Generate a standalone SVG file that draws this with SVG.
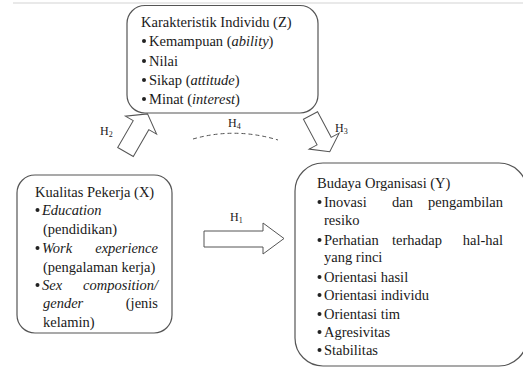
<svg xmlns="http://www.w3.org/2000/svg" width="523" height="368" viewBox="0 0 523 368" font-family="'Liberation Serif', 'DejaVu Serif', serif">
<style>
text{font-family:'Liberation Serif','DejaVu Serif',serif;font-size:14.5px;fill:#1a1a1a}
.i{font-style:italic}
.box{fill:#fff;stroke:#555;stroke-width:1.2}
.arr{fill:#fff;stroke:#555;stroke-width:1}
.lbl{font-size:12px}
.sub{font-size:8px}
.b{fill:#222}
</style>
<rect width="523" height="368" fill="#fff"/>
<line x1="13" y1="3" x2="523" y2="3" stroke="#e2e2e2" stroke-width="1.5"/>
<g id="node-z">
<rect class="box" x="127" y="5.5" width="191" height="107.5" rx="18"/>
<text x="141" y="27">Karakteristik Individu (Z)</text>
<circle class="b" cx="144" cy="41" r="2"/><text x="149" y="46">Kemampuan (<tspan class="i">ability</tspan>)</text>
<circle class="b" cx="144" cy="61" r="2"/><text x="149" y="66">Nilai</text>
<circle class="b" cx="144" cy="80" r="2"/><text x="149" y="85">Sikap (<tspan class="i">attitude</tspan>)</text>
<circle class="b" cx="144" cy="99" r="2"/><text x="149" y="104">Minat (<tspan class="i">interest</tspan>)</text>
</g>
<g id="node-x">
<rect class="box" x="17" y="175" width="155" height="158" rx="18"/>
<text x="35" y="197">Kualitas Pekerja (X)</text>
<circle class="b" cx="37.5" cy="210" r="2"/><text x="42" y="215" class="i">Education</text>
<text x="43" y="234">(pendidikan)</text>
<circle class="b" cx="37.5" cy="248" r="2"/><text x="42" y="253" class="i">Work</text><text x="158" y="253" class="i" text-anchor="end">experience</text>
<text x="43" y="272">(pengalaman kerja)</text>
<circle class="b" cx="37.5" cy="285" r="2"/><text x="42" y="290" class="i">Sex</text><text x="158" y="290" class="i" text-anchor="end">composition/</text>
<text x="43" y="308" class="i">gender</text><text x="158" y="308" text-anchor="end">(jenis</text>
<text x="43" y="327">kelamin)</text>
</g>
<g id="node-y">
<rect class="box" x="295" y="163" width="232" height="203" rx="28"/>
<text x="317" y="188">Budaya Organisasi (Y)</text>
<circle class="b" cx="319.5" cy="202" r="2"/><text x="324" y="207">Inovasi</text><text x="392" y="207">dan</text><text x="503" y="207" text-anchor="end">pengambilan</text>
<text x="324" y="225">resiko</text>
<circle class="b" cx="319.5" cy="240" r="2"/><text x="324" y="245">Perhatian</text><text x="392" y="245">terhadap</text><text x="503" y="245" text-anchor="end">hal-hal</text>
<text x="324" y="262">yang rinci</text>
<circle class="b" cx="319.5" cy="277" r="2"/><text x="324" y="282">Orientasi hasil</text>
<circle class="b" cx="319.5" cy="295" r="2"/><text x="324" y="300">Orientasi individu</text>
<circle class="b" cx="319.5" cy="314" r="2"/><text x="324" y="319">Orientasi tim</text>
<circle class="b" cx="319.5" cy="332" r="2"/><text x="324" y="337">Agresivitas</text>
<circle class="b" cx="319.5" cy="350" r="2"/><text x="324" y="355">Stabilitas</text>
</g>
<g id="connectors">
<polygon class="arr" points="204,231 263,231 263,223 284,238.5 263,254 263,247 204,247"/>
<polygon class="arr" transform="translate(125.5,152) rotate(-60)" points="0,-9 31,-9 31,-18 44,0 31,18 31,9 0,9"/>
<polygon class="arr" transform="translate(310.5,115.5) rotate(62)" points="0,-8 29,-8 29,-17 41,0 29,17 29,8 0,8"/>
<path d="M193,139 Q235,127 278,140" fill="none" stroke="#555" stroke-width="1" stroke-dasharray="4,3"/>
<text class="lbl" x="230" y="221">H<tspan class="sub" dy="2">1</tspan></text>
<text class="lbl" x="100" y="135">H<tspan class="sub" dy="2">2</tspan></text>
<text class="lbl" x="335" y="132">H<tspan class="sub" dy="2">3</tspan></text>
<text class="lbl" x="228" y="127">H<tspan class="sub" dy="2">4</tspan></text>
</g>
</svg>
